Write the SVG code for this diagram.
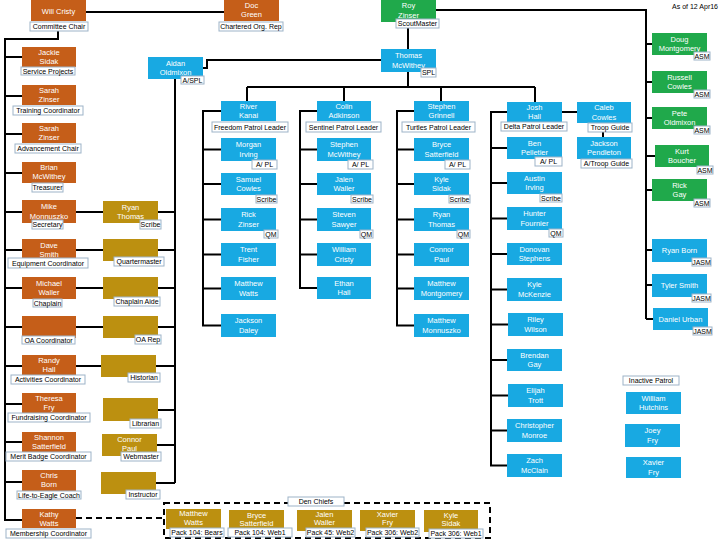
<svg xmlns="http://www.w3.org/2000/svg" width="720" height="540" viewBox="0 0 720 540">
<style>
.o{fill:#C55E19}.b{fill:#18A9E2}.g{fill:#20A94B}.y{fill:#BC9010}
text{font-family:"Liberation Sans",Arial,sans-serif}
.nt{font-size:7.5px;fill:#fff;text-anchor:middle}
.lb{fill:#fff;stroke:#9DB3C8;stroke-width:1}
.lt{font-size:7px;fill:#000;text-anchor:middle}
.c{stroke:#000;stroke-width:2;fill:none}
.d{stroke:#000;stroke-width:2;fill:none;stroke-dasharray:6 4}
</style>
<rect width="720" height="540" fill="#fff"/>
<text x="718" y="9" font-size="7" text-anchor="end">As of 12 Apr16</text>
<g id="connectors">
<path class="c" d="M86,12H224"/>
<path class="c" d="M436,10H646V319M646,44H652M646,82H652M646,118H652M646,156H655M646,190H652M646,250H652M646,285H652M646,319H653"/>
<path class="c" d="M408,22V49M203,68H207V60H381M408,72V87M247,87H535M247,87V101M344,87V101M441,87V101M535,87V102"/>
<path class="c" d="M221,111H203V325.5H221M203,149.5H221M203,184H221M203,219.5H221M203,254.5H221M203,288.5H221"/>
<path class="c" d="M317,111H300V288H317M300,149.5H317M300,184H317M300,219.5H317M300,254.5H317"/>
<path class="c" d="M414,111H397V325.5H414M397,149.5H414M397,184H414M397,219.5H414M397,254.5H414M397,288.5H414"/>
<path class="c" d="M507,112H491V465.5H507M491,148H507M491,183H507M491,218.5H507M491,254H507M491,289.5H507M491,324.5H508M491,360H507M491,395.5H508M491,430.5H507"/>
<path class="c" d="M562,112H577M603,123V137"/>
<path class="c" d="M58,31V39H5V520H22M5,57H22M5,96H22M5,134H22M5,173H22M5,212H22M5,250H22M5,288H22M5,327H22M5,366H22M5,404H22M5,442H22M5,482H22"/>
<path class="c" d="M76,212H103M76,250H103M76,288H103M76,327H103M76,366H101"/>
<path class="c" d="M175,79V483M158,212H175M158,250H175M158,288H175M158,327H175M156,366H175M158,410H175M157,445H175M156,483H175"/>
<path class="d" d="M76,518H163"/>
<rect class="d" x="164" y="503" width="326" height="35"/>
</g>
<g id="will-cristy"><rect class="o" x="31" y="0" width="55" height="21"/><text class="nt" x="58.5" y="14">Will Cristy</text><rect class="lb" x="30" y="22" width="58" height="9"/><text class="lt" x="59" y="29">Committee Chair</text></g>
<g id="doc-green"><rect class="o" x="224" y="0" width="55" height="21"/><text class="nt" x="251.5" y="7.5">Doc</text><text class="nt" x="251.5" y="17">Green</text><rect class="lb" x="219" y="22" width="64" height="9"/><text class="lt" x="251" y="29">Chartered Org. Rep</text></g>
<g id="roy-zinser"><rect class="g" x="381" y="0" width="55" height="22"/><text class="nt" x="408.5" y="8">Roy</text><text class="nt" x="408.5" y="17.5">Zinser</text><rect class="lb" x="396" y="19" width="43" height="9"/><text class="lt" x="417.5" y="26">ScoutMaster</text></g>
<g id="doug-montgomery"><rect class="g" x="652" y="33" width="55" height="22"/><text class="nt" x="679.5" y="41.5">Doug</text><text class="nt" x="679.5" y="51">Montgomery</text><rect class="lb" x="694" y="52" width="16" height="8"/><text class="lt" x="702" y="58.5">ASM</text></g>
<g id="russell-cowles"><rect class="g" x="652" y="71" width="55" height="22"/><text class="nt" x="679.5" y="79.5">Russell</text><text class="nt" x="679.5" y="89">Cowles</text><rect class="lb" x="694" y="90" width="16" height="8"/><text class="lt" x="702" y="96.5">ASM</text></g>
<g id="pete-oldmixon"><rect class="g" x="652" y="107" width="55" height="22"/><text class="nt" x="679.5" y="115.5">Pete</text><text class="nt" x="679.5" y="125">Oldmixon</text><rect class="lb" x="694" y="126" width="16" height="8"/><text class="lt" x="702" y="132.5">ASM</text></g>
<g id="kurt-boucher"><rect class="g" x="655" y="145" width="54" height="22"/><text class="nt" x="682" y="153.5">Kurt</text><text class="nt" x="682" y="163">Boucher</text><rect class="lb" x="697" y="166" width="16" height="8"/><text class="lt" x="705" y="172.5">ASM</text></g>
<g id="rick-gay"><rect class="g" x="652" y="179" width="55" height="22"/><text class="nt" x="679.5" y="187.5">Rick</text><text class="nt" x="679.5" y="197">Gay</text><rect class="lb" x="694" y="199" width="16" height="8"/><text class="lt" x="702" y="205.5">ASM</text></g>
<g id="ryan-born"><rect class="b" x="652" y="239" width="55" height="23"/><text class="nt" x="679.5" y="253">Ryan Born</text><rect class="lb" x="692" y="258" width="19" height="8"/><text class="lt" x="701.5" y="264.5">JASM</text></g>
<g id="tyler-smith"><rect class="b" x="652" y="274" width="55" height="23"/><text class="nt" x="679.5" y="288">Tyler Smith</text><rect class="lb" x="692" y="294" width="19" height="8"/><text class="lt" x="701.5" y="300.5">JASM</text></g>
<g id="daniel-urban"><rect class="b" x="653" y="308" width="55" height="22"/><text class="nt" x="680.5" y="321.5">Daniel Urban</text><rect class="lb" x="693" y="327" width="19" height="8"/><text class="lt" x="702.5" y="333.5">JASM</text></g>
<g id="thomas-mcwithey"><rect class="b" x="381" y="49" width="55" height="23"/><text class="nt" x="408.5" y="57.5">Thomas</text><text class="nt" x="408.5" y="67.5">McWithey</text><rect class="lb" x="421" y="68" width="15" height="9"/><text class="lt" x="428.5" y="75">SPL</text></g>
<g id="aidan-oldmixon"><rect class="b" x="148" y="57" width="55" height="22"/><text class="nt" x="175.5" y="65.5">Aidan</text><text class="nt" x="175.5" y="75">Oldmixon</text><rect class="lb" x="181" y="76" width="23" height="8"/><text class="lt" x="192.5" y="82.5">A/SPL</text></g>
<g id="river-kanai"><rect class="b" x="221" y="101" width="55" height="20"/><text class="nt" x="248.5" y="108.5">River</text><text class="nt" x="248.5" y="118">Kanai</text><rect class="lb" x="212" y="122" width="76" height="10"/><text class="lt" x="250" y="129.5">Freedom Patrol Leader</text></g>
<g id="morgan-irving"><rect class="b" x="221" y="138" width="55" height="23"/><text class="nt" x="248.5" y="146.5">Morgan</text><text class="nt" x="248.5" y="156.5">Irving</text><rect class="lb" x="252" y="160" width="25" height="9"/><text class="lt" x="264.5" y="167">A/ PL</text></g>
<g id="samuel-cowles"><rect class="b" x="221" y="173" width="55" height="22"/><text class="nt" x="248.5" y="181.5">Samuel</text><text class="nt" x="248.5" y="191">Cowles</text><rect class="lb" x="256" y="195" width="21" height="8"/><text class="lt" x="266.5" y="201.5">Scribe</text></g>
<g id="rick-zinser"><rect class="b" x="221" y="208" width="55" height="23"/><text class="nt" x="248.5" y="216.5">Rick</text><text class="nt" x="248.5" y="226.5">Zinser</text><rect class="lb" x="264" y="230" width="14" height="8"/><text class="lt" x="271" y="236.5">QM</text></g>
<g id="trent-fisher"><rect class="b" x="221" y="243" width="55" height="23"/><text class="nt" x="248.5" y="251.5">Trent</text><text class="nt" x="248.5" y="261.5">Fisher</text></g>
<g id="matthew-watts"><rect class="b" x="221" y="277" width="55" height="23"/><text class="nt" x="248.5" y="285.5">Matthew</text><text class="nt" x="248.5" y="295.5">Watts</text></g>
<g id="jackson-daley"><rect class="b" x="221" y="314" width="55" height="23"/><text class="nt" x="248.5" y="322.5">Jackson</text><text class="nt" x="248.5" y="332.5">Daley</text></g>
<g id="colin-adkinson"><rect class="b" x="317" y="101" width="54" height="20"/><text class="nt" x="344" y="108.5">Colin</text><text class="nt" x="344" y="118">Adkinson</text><rect class="lb" x="306" y="122" width="75" height="10"/><text class="lt" x="343.5" y="129.5">Sentinel Patrol Leader</text></g>
<g id="stephen-mcwithey"><rect class="b" x="317" y="138" width="54" height="23"/><text class="nt" x="344" y="146.5">Stephen</text><text class="nt" x="344" y="156.5">McWithey</text><rect class="lb" x="348" y="160" width="25" height="9"/><text class="lt" x="360.5" y="167">A/ PL</text></g>
<g id="jalen-waller"><rect class="b" x="317" y="173" width="54" height="22"/><text class="nt" x="344" y="181.5">Jalen</text><text class="nt" x="344" y="191">Waller</text><rect class="lb" x="351" y="195" width="22" height="8"/><text class="lt" x="362" y="201.5">Scribe</text></g>
<g id="steven-sawyer"><rect class="b" x="317" y="208" width="54" height="23"/><text class="nt" x="344" y="216.5">Steven</text><text class="nt" x="344" y="226.5">Sawyer</text><rect class="lb" x="360" y="230" width="13" height="8"/><text class="lt" x="366.5" y="236.5">QM</text></g>
<g id="william-cristy"><rect class="b" x="317" y="243" width="54" height="23"/><text class="nt" x="344" y="251.5">William</text><text class="nt" x="344" y="261.5">Cristy</text></g>
<g id="ethan-hall"><rect class="b" x="317" y="277" width="54" height="22"/><text class="nt" x="344" y="285.5">Ethan</text><text class="nt" x="344" y="295">Hall</text></g>
<g id="stephen-grinnell"><rect class="b" x="414" y="101" width="55" height="20"/><text class="nt" x="441.5" y="108.5">Stephen</text><text class="nt" x="441.5" y="118">Grinnell</text><rect class="lb" x="402" y="122" width="73" height="10"/><text class="lt" x="438.5" y="129.5">Turtles Patrol Leader</text></g>
<g id="bryce-satterfield"><rect class="b" x="414" y="138" width="55" height="23"/><text class="nt" x="441.5" y="146.5">Bryce</text><text class="nt" x="441.5" y="156.5">Satterfield</text><rect class="lb" x="445" y="160" width="25" height="9"/><text class="lt" x="457.5" y="167">A/ PL</text></g>
<g id="kyle-sidak"><rect class="b" x="414" y="173" width="55" height="22"/><text class="nt" x="441.5" y="181.5">Kyle</text><text class="nt" x="441.5" y="191">Sidak</text><rect class="lb" x="449" y="195" width="21" height="8"/><text class="lt" x="459.5" y="201.5">Scribe</text></g>
<g id="ryan-thomas"><rect class="b" x="414" y="208" width="55" height="23"/><text class="nt" x="441.5" y="216.5">Ryan</text><text class="nt" x="441.5" y="226.5">Thomas</text><rect class="lb" x="457" y="230" width="13" height="8"/><text class="lt" x="463.5" y="236.5">QM</text></g>
<g id="connor-paul"><rect class="b" x="414" y="243" width="55" height="23"/><text class="nt" x="441.5" y="251.5">Connor</text><text class="nt" x="441.5" y="261.5">Paul</text></g>
<g id="matthew-montgomery"><rect class="b" x="414" y="277" width="55" height="23"/><text class="nt" x="441.5" y="285.5">Matthew</text><text class="nt" x="441.5" y="295.5">Montgomery</text></g>
<g id="matthew-monnuszko"><rect class="b" x="414" y="314" width="55" height="23"/><text class="nt" x="441.5" y="322.5">Matthew</text><text class="nt" x="441.5" y="332.5">Monnuszko</text></g>
<g id="josh-hall"><rect class="b" x="507" y="102" width="55" height="20"/><text class="nt" x="534.5" y="109.5">Josh</text><text class="nt" x="534.5" y="119">Hall</text><rect class="lb" x="501" y="122" width="66" height="9"/><text class="lt" x="534" y="129">Delta Patrol Leader</text></g>
<g id="ben-pelletier"><rect class="b" x="507" y="137" width="55" height="22"/><text class="nt" x="534.5" y="145.5">Ben</text><text class="nt" x="534.5" y="155">Pelletier</text><rect class="lb" x="535" y="157" width="27" height="9"/><text class="lt" x="548.5" y="164">A/ PL</text></g>
<g id="austin-irving"><rect class="b" x="507" y="172" width="55" height="22"/><text class="nt" x="534.5" y="180.5">Austin</text><text class="nt" x="534.5" y="190">Irving</text><rect class="lb" x="540" y="194" width="22" height="8"/><text class="lt" x="551" y="200.5">Scribe</text></g>
<g id="hunter-fournier"><rect class="b" x="507" y="207" width="55" height="23"/><text class="nt" x="534.5" y="215.5">Hunter</text><text class="nt" x="534.5" y="225.5">Fournier</text><rect class="lb" x="549" y="229" width="14" height="8"/><text class="lt" x="556" y="235.5">QM</text></g>
<g id="donovan-stephens"><rect class="b" x="507" y="243" width="55" height="22"/><text class="nt" x="534.5" y="251.5">Donovan</text><text class="nt" x="534.5" y="261">Stephens</text></g>
<g id="kyle-mckenzie"><rect class="b" x="507" y="278" width="55" height="23"/><text class="nt" x="534.5" y="286.5">Kyle</text><text class="nt" x="534.5" y="296.5">McKenzie</text></g>
<g id="riley-wilson"><rect class="b" x="508" y="313" width="55" height="23"/><text class="nt" x="535.5" y="321.5">Riley</text><text class="nt" x="535.5" y="331.5">Wilson</text></g>
<g id="brendan-gay"><rect class="b" x="507" y="349" width="55" height="22"/><text class="nt" x="534.5" y="357.5">Brendan</text><text class="nt" x="534.5" y="367">Gay</text></g>
<g id="elijah-trott"><rect class="b" x="508" y="384" width="55" height="23"/><text class="nt" x="535.5" y="392.5">Elijah</text><text class="nt" x="535.5" y="402.5">Trott</text></g>
<g id="christopher-monroe"><rect class="b" x="507" y="419" width="55" height="23"/><text class="nt" x="534.5" y="427.5">Christopher</text><text class="nt" x="534.5" y="437.5">Monroe</text></g>
<g id="zach-mcclain"><rect class="b" x="507" y="454" width="55" height="23"/><text class="nt" x="534.5" y="462.5">Zach</text><text class="nt" x="534.5" y="472.5">McClain</text></g>
<g id="caleb-cowles"><rect class="b" x="577" y="102" width="54" height="21"/><text class="nt" x="604" y="110">Caleb</text><text class="nt" x="604" y="119.5">Cowles</text><rect class="lb" x="588" y="123" width="44" height="9"/><text class="lt" x="610" y="130">Troop Guide</text></g>
<g id="jackson-pendleton"><rect class="b" x="577" y="137" width="54" height="22"/><text class="nt" x="604" y="145.5">Jackson</text><text class="nt" x="604" y="155">Pendleton</text><rect class="lb" x="581" y="159" width="51" height="9"/><text class="lt" x="606.5" y="166">A/Troop Guide</text></g>
<g id="inactive-patrol"><rect class="lb" x="623" y="376" width="56" height="9"/><text class="lt" x="651" y="383">Inactive Patrol</text></g>
<g id="william-hutchins"><rect class="b" x="626" y="392" width="55" height="22"/><text class="nt" x="653.5" y="400.5">William</text><text class="nt" x="653.5" y="410">Hutchins</text></g>
<g id="joey-fry"><rect class="b" x="625" y="424" width="55" height="23"/><text class="nt" x="652.5" y="432.5">Joey</text><text class="nt" x="652.5" y="442.5">Fry</text></g>
<g id="xavier-fry-inactive"><rect class="b" x="626" y="457" width="55" height="21"/><text class="nt" x="653.5" y="465">Xavier</text><text class="nt" x="653.5" y="474.5">Fry</text></g>
<g id="jackie-sidak"><rect class="o" x="22" y="47" width="54" height="20"/><text class="nt" x="49" y="54.5">Jackie</text><text class="nt" x="49" y="63.5">Sidak</text><rect class="lb" x="21" y="67" width="54" height="8"/><text class="lt" x="48" y="73.5">Service Projects</text></g>
<g id="sarah-zinser-1"><rect class="o" x="22" y="85" width="54" height="20"/><text class="nt" x="49" y="92.5">Sarah</text><text class="nt" x="49" y="101.5">Zinser</text><rect class="lb" x="13" y="106" width="70" height="9"/><text class="lt" x="48" y="113">Training Coordinator</text></g>
<g id="sarah-zinser-2"><rect class="o" x="22" y="123" width="54" height="20"/><text class="nt" x="49" y="130.5">Sarah</text><text class="nt" x="49" y="139.5">Zinser</text><rect class="lb" x="15" y="144" width="66" height="9"/><text class="lt" x="48" y="151">Advancement Chair</text></g>
<g id="brian-mcwithey"><rect class="o" x="22" y="162" width="54" height="21"/><text class="nt" x="49" y="169.5">Brian</text><text class="nt" x="49" y="179">McWithey</text><rect class="lb" x="32" y="183" width="31" height="9"/><text class="lt" x="47.5" y="190">Treasurer</text></g>
<g id="mike-monnuszko"><rect class="o" x="22" y="200" width="54" height="23"/><text class="nt" x="49" y="208.5">Mike</text><text class="nt" x="49" y="218.5">Monnuszko</text><rect class="lb" x="32" y="220" width="31" height="9"/><text class="lt" x="47.5" y="227">Secretary</text></g>
<g id="dave-smith"><rect class="o" x="22" y="239" width="54" height="23"/><text class="nt" x="49" y="247.5">Dave</text><text class="nt" x="49" y="257">Smith</text><rect class="lb" x="8" y="258" width="80" height="10"/><text class="lt" x="48" y="265.5">Equipment Coordinator</text></g>
<g id="michael-waller"><rect class="o" x="22" y="277" width="54" height="22"/><text class="nt" x="49" y="285.5">Michael</text><text class="nt" x="49" y="295">Waller</text><rect class="lb" x="33" y="299" width="29" height="8"/><text class="lt" x="47.5" y="305.5">Chaplain</text></g>
<g id="oa-coordinator"><rect class="o" x="22" y="316" width="54" height="22"/><rect class="lb" x="22" y="336" width="53" height="8"/><text class="lt" x="48.5" y="342.5">OA Coordinator</text></g>
<g id="randy-hall"><rect class="o" x="22" y="355" width="54" height="20"/><text class="nt" x="49" y="362.5">Randy</text><text class="nt" x="49" y="371.5">Hall</text><rect class="lb" x="11" y="375" width="74" height="9"/><text class="lt" x="48" y="382">Activities Coordinator</text></g>
<g id="theresa-fry"><rect class="o" x="22" y="393" width="54" height="20"/><text class="nt" x="49" y="400.5">Theresa</text><text class="nt" x="49" y="409.5">Fry</text><rect class="lb" x="8" y="413" width="82" height="9"/><text class="lt" x="49" y="420">Fundraising Coordinator</text></g>
<g id="shannon-satterfield"><rect class="o" x="22" y="432" width="54" height="20"/><text class="nt" x="49" y="439.5">Shannon</text><text class="nt" x="49" y="448.5">Satterfield</text><rect class="lb" x="6" y="452" width="85" height="9"/><text class="lt" x="48.5" y="459">Merit Badge Coordinator</text></g>
<g id="chris-born"><rect class="o" x="22" y="470" width="54" height="21"/><text class="nt" x="49" y="477.5">Chris</text><text class="nt" x="49" y="487">Born</text><rect class="lb" x="17" y="491" width="64" height="8"/><text class="lt" x="49" y="497.5">Life-to-Eagle Coach</text></g>
<g id="kathy-watts"><rect class="o" x="22" y="509" width="54" height="19"/><text class="nt" x="49" y="516.5">Kathy</text><text class="nt" x="49" y="525.5">Watts</text><rect class="lb" x="6" y="529" width="85" height="9"/><text class="lt" x="48.5" y="536">Membership Coordinator</text></g>
<g id="scribe-ryan-thomas"><rect class="y" x="103" y="201" width="55" height="22"/><text class="nt" x="130.5" y="209.5">Ryan</text><text class="nt" x="130.5" y="219">Thomas</text><rect class="lb" x="140" y="220" width="21" height="9"/><text class="lt" x="150.5" y="227">Scribe</text></g>
<g id="quartermaster"><rect class="y" x="103" y="239" width="55" height="22"/><rect class="lb" x="114" y="257" width="50" height="9"/><text class="lt" x="139" y="264">Quartermaster</text></g>
<g id="chaplain-aide"><rect class="y" x="103" y="277" width="55" height="22"/><rect class="lb" x="114" y="297" width="46" height="9"/><text class="lt" x="137" y="304">Chaplain Aide</text></g>
<g id="oa-rep"><rect class="y" x="103" y="316" width="55" height="22"/><rect class="lb" x="135" y="335" width="26" height="9"/><text class="lt" x="148" y="342">OA Rep</text></g>
<g id="historian"><rect class="y" x="101" y="355" width="55" height="22"/><rect class="lb" x="128" y="373" width="32" height="9"/><text class="lt" x="144" y="380">Historian</text></g>
<g id="librarian"><rect class="y" x="103" y="398" width="55" height="23"/><rect class="lb" x="130" y="419" width="31" height="9"/><text class="lt" x="145.5" y="426">Librarian</text></g>
<g id="webmaster-connor-paul"><rect class="y" x="102" y="434" width="55" height="22"/><text class="nt" x="129.5" y="442">Connor</text><text class="nt" x="129.5" y="450.5">Paul</text><rect class="lb" x="121" y="452" width="40" height="9"/><text class="lt" x="141" y="459">Webmaster</text></g>
<g id="instructor"><rect class="y" x="101" y="472" width="55" height="22"/><rect class="lb" x="126" y="490" width="34" height="9"/><text class="lt" x="143" y="497">Instructor</text></g>
<g id="den-chiefs"><rect class="lb" x="288" y="497" width="56" height="9"/><text class="lt" x="316" y="504">Den Chiefs</text></g>
<g id="dc-matthew-watts"><rect class="y" x="166" y="509" width="55" height="20"/><text class="nt" x="193.5" y="516">Matthew</text><text class="nt" x="193.5" y="524.5">Watts</text><rect class="lb" x="170" y="528" width="54" height="9"/><text class="lt" x="197" y="535">Pack 104: Bears</text></g>
<g id="dc-bryce-satterfield"><rect class="y" x="229" y="510" width="55" height="21"/><text class="nt" x="256.5" y="517.5">Bryce</text><text class="nt" x="256.5" y="526">Satterfield</text><rect class="lb" x="228" y="528" width="64" height="9"/><text class="lt" x="260" y="535">Pack 104: Web1</text></g>
<g id="dc-jalen-waller"><rect class="y" x="297" y="510" width="55" height="21"/><text class="nt" x="324.5" y="516.5">Jalen</text><text class="nt" x="324.5" y="525">Waller</text><rect class="lb" x="306" y="528" width="49" height="9"/><text class="lt" x="330.5" y="535">Pack 45: Web2</text></g>
<g id="dc-xavier-fry"><rect class="y" x="360" y="510" width="55" height="21"/><text class="nt" x="387.5" y="516.5">Xavier</text><text class="nt" x="387.5" y="525">Fry</text><rect class="lb" x="366" y="528" width="53" height="9"/><text class="lt" x="392.5" y="535">Pack 306: Web2</text></g>
<g id="dc-kyle-sidak"><rect class="y" x="424" y="510" width="54" height="22"/><text class="nt" x="451" y="517.5">Kyle</text><text class="nt" x="451" y="526">Sidak</text><rect class="lb" x="429" y="529" width="54" height="9"/><text class="lt" x="456" y="536">Pack 306: Web1</text></g>
</svg>
